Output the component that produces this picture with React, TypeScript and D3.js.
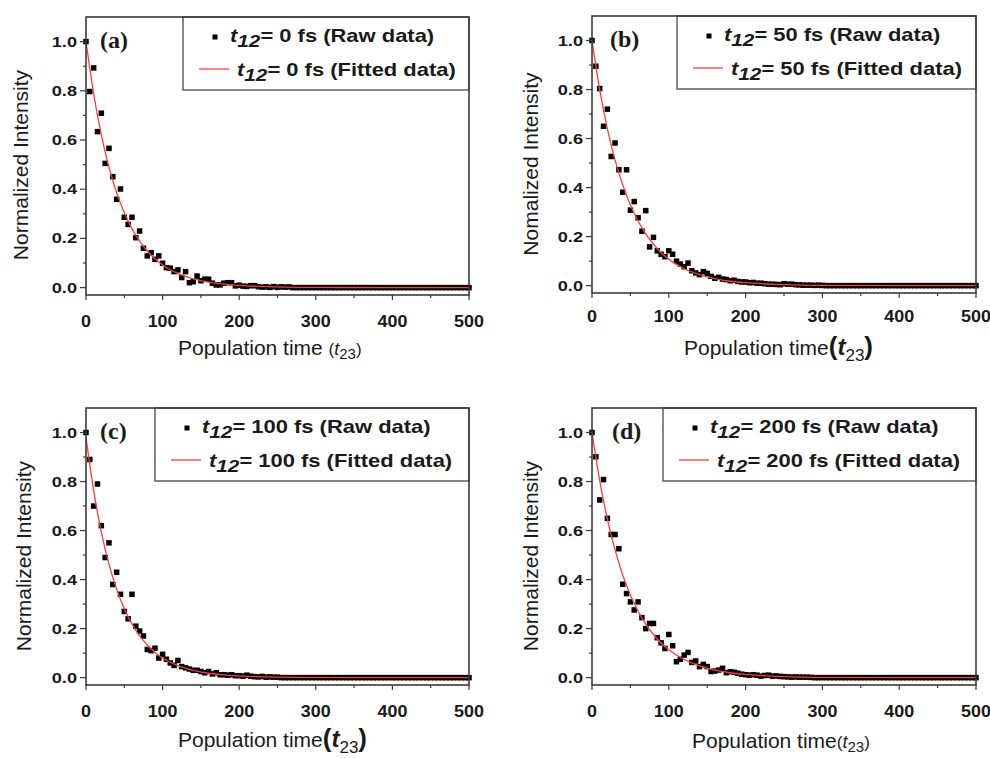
import React from 'react';
import * as d3 from 'd3';

// ---------- data ----------
const T = [0,5,10,15,20,25,30,35,40,45,50,55,60,65,70,75,80,85,90,95,
  100,105,110,115,120,125,130,135,140,145,150,155,160,165,170,175,180,185,190,195,
  200,205,210,215,220,225,230,235,240,245,250,255,260,265,270,275,280,285,290,295,
  300,305,310,315,320,325,330,335,340,345,350,355,360,365,370,375,380,385,390,395,
  400,405,410,415,420,425,430,435,440,445,450,455,460,465,470,475,480,485,490,495,500];

const rawA = [1.0,0.797,0.893,0.634,0.709,0.505,0.566,0.451,0.359,0.401,
  0.286,0.257,0.286,0.203,0.230,0.160,0.129,0.142,0.115,0.129,
  0.099,0.081,0.079,0.065,0.072,0.041,0.065,0.020,0.024,0.047,
  0.028,0.034,0.034,0.018,0.011,0.011,0.018,0.020,0.020,0.007,
  0.010,0.006,0.005,0.008,0.008,0.004,0.002,0.003,0.001,0.004,
  0.001,0.003,0.002,0.003,0,0,0,0,0,0,
  0,0,0,0,0,0,0,0,0,0,
  0,0,0,0,0,0,0,0,0,0,
  0,0,0,0,0,0,0,0,0,0,
  0,0,0,0,0,0,0,0,0,0,0];

const rawB = [1.0,0.895,0.804,0.650,0.720,0.527,0.582,0.473,0.381,0.473,
  0.308,0.343,0.277,0.222,0.306,0.158,0.197,0.142,0.128,0.118,
  0.142,0.128,0.100,0.088,0.077,0.092,0.061,0.052,0.045,0.057,
  0.050,0.038,0.030,0.034,0.027,0.025,0.020,0.022,0.017,0.015,
  0.015,0.012,0.013,0.010,0.010,0.008,0.006,0.006,0.005,0.004,
  0.008,0.006,0.006,0.004,0.003,0.002,0.002,0.002,0.001,0.002,
  0.001,0,0,0,0,0,0,0,0,0,
  0,0,0,0,0,0,0,0,0,0,
  0,0,0,0,0,0,0,0,0,0,
  0,0,0,0,0,0,0,0,0,0,0];

const rawC = [1.0,0.89,0.70,0.79,0.62,0.49,0.55,0.38,0.43,0.34,
  0.27,0.24,0.34,0.21,0.19,0.17,0.115,0.11,0.12,0.08,
  0.095,0.075,0.06,0.05,0.07,0.045,0.04,0.035,0.03,0.03,
  0.025,0.02,0.025,0.015,0.02,0.012,0.012,0.01,0.012,0.008,
  0.008,0.006,0.01,0.006,0.004,0.003,0.005,0.002,0.003,0.002,
  0.002,0,0,0,0,0,0,0,0,0,
  0,0,0,0,0,0,0,0,0,0,
  0,0,0,0,0,0,0,0,0,0,
  0,0,0,0,0,0,0,0,0,0,
  0,0,0,0,0,0,0,0,0,0,0];

const rawD = [1.0,0.901,0.725,0.808,0.650,0.584,0.584,0.526,0.381,0.343,
  0.309,0.276,0.309,0.245,0.200,0.221,0.221,0.163,0.142,0.119,
  0.176,0.130,0.065,0.075,0.092,0.103,0.062,0.068,0.045,0.054,
  0.045,0.025,0.027,0.031,0.038,0.020,0.024,0.022,0.018,0.014,
  0.012,0.010,0.012,0.010,0.006,0.009,0.010,0.006,0.007,0.005,
  0.004,0.003,0.002,0.003,0.002,0.002,0.002,0.001,0,0,
  0,0,0,0,0,0,0,0,0,0,
  0,0,0,0,0,0,0,0,0,0,
  0,0,0,0,0,0,0,0,0,0,
  0,0,0,0,0,0,0,0,0,0,0];

const fitT = [0,10,20,30,40,50,60,70,80,90,100,120,140,160,180,200,250,300,400,500];
const fitA = [1.0,0.788,0.621,0.490,0.386,0.304,0.240,0.189,0.149,0.117,0.092,0.057,0.036,0.022,0.014,0.009,0.003,0.001,0,0];
const fitB = [1.0,0.801,0.641,0.513,0.411,0.329,0.264,0.211,0.169,0.135,0.108,0.069,0.045,0.029,0.018,0.012,0.004,0.001,0,0];
const fitC = [0.98,0.763,0.594,0.463,0.361,0.281,0.219,0.170,0.133,0.103,0.080,0.049,0.030,0.018,0.011,0.007,0.002,0.001,0,0];
const fitD = [1.0,0.805,0.647,0.521,0.419,0.337,0.271,0.218,0.176,0.141,0.114,0.074,0.048,0.031,0.020,0.013,0.004,0.001,0,0];

const t12Values = ['0', '50', '100', '200'];
const panelLabels = ['(a)', '(b)', '(c)', '(d)'];
const yTitles = ['Normalized Intensity', 'Nomalized Intensity', 'Normalized Intensity', 'Normalized Intensity'];
const xTickValues = [0, 100, 200, 300, 400, 500];
const yTickValues = [0, 0.2, 0.4, 0.6, 0.8, 1.0];
const yTickLabels = ['0.0', '0.2', '0.4', '0.6', '0.8', '1.0'];

const rawSeries = [rawA, rawB, rawC, rawD];
const fitSeries = [fitA, fitB, fitC, fitD];

// ---------- layout ----------
const panels = [
  { left: 86, top: 17, right: 469, bottom: 295, legendLeft: 183, labelX: 100, tickDy: 32, yTitleX: 28, xTitleX: 178, xTitleY: 355, big: false, space: true },
  { left: 592, top: 16, right: 976, bottom: 293, legendLeft: 677, labelX: 610, tickDy: 29, yTitleX: 538, xTitleX: 684, xTitleY: 355, big: true, space: false },
  { left: 86, top: 408, right: 469, bottom: 685, legendLeft: 155, labelX: 100, tickDy: 32, yTitleX: 31, xTitleX: 178, xTitleY: 747, big: true, space: false },
  { left: 592, top: 408, right: 976, bottom: 685, legendLeft: 663, labelX: 612, tickDy: 32, yTitleX: 538, xTitleX: 692, xTitleY: 748, big: false, space: false },
];

const SANS = '"Liberation Sans", Arial, Helvetica, sans-serif';
const SERIF = '"Liberation Serif", "Times New Roman", serif';
const INK = '#1a1a1a';
const FRAME = '#3a3a3a';
const RED = '#ff3b3b';

function Panel({ idx }: { idx: number }) {
  const p = panels[idx];
  const raw = rawSeries[idx];
  const fit = fitSeries[idx];
  const x = d3.scaleLinear().domain([0, 500]).range([p.left, p.right]);
  const y = d3.scaleLinear().domain([-0.03, 1.1]).range([p.bottom, p.top]);
  const line = d3.line<number>().x((_, i) => x(fitT[i])).y((d) => y(d)).curve(d3.curveMonotoneX);
  const xMinor = x.ticks(10).filter((t) => t % 100 !== 0);
  const yMinor = y.ticks(12).filter((t) => t >= 0 && t < 1.05 && Math.round(t * 10) % 2 === 1);
  const sq = 5.5;
  const lg = p.legendLeft;
  const v = t12Values[idx];
  const clipId = `clip${idx}`;

  const suffix = p.big ? (
    <>
      <tspan fontSize={26} fontWeight="bold">(</tspan>
      <tspan fontSize={24} fontWeight="bold" fontStyle="italic">t</tspan>
      <tspan fontSize={17} dy={6}>23</tspan>
      <tspan fontSize={26} fontWeight="bold" dy={-6}>)</tspan>
    </>
  ) : (
    <>
      <tspan fontSize={17}>(</tspan>
      <tspan fontSize={18} fontStyle="italic">t</tspan>
      <tspan fontSize={15} dy={4}>23</tspan>
      <tspan fontSize={17} dy={-4}>)</tspan>
    </>
  );

  return (
    <g>
      <defs>
        <clipPath id={clipId}>
          <rect x={p.left} y={p.top} width={p.right - p.left} height={p.bottom - p.top} />
        </clipPath>
      </defs>
      {/* legend box */}
      <rect x={lg} y={p.top} width={p.right - lg} height={73} fill="none" stroke="#555" strokeWidth={1.4} />
      {/* raw squares */}
      <g fill="#000">
        {raw.map((d, i) => (
          <rect key={i} x={x(T[i]) - sq / 2} y={y(d) - sq / 2} width={sq} height={sq} />
        ))}
      </g>
      {/* fitted curve */}
      <path d={line(fit) || ''} fill="none" stroke={RED} strokeWidth={1.3} clipPath={`url(#${clipId})`} />
      {/* frame */}
      <rect x={p.left} y={p.top} width={p.right - p.left} height={p.bottom - p.top} fill="none" stroke={FRAME} strokeWidth={1.6} />
      {/* y ticks */}
      {yTickValues.map((t, i) => (
        <g key={'yt' + i}>
          <line x1={p.left} x2={p.left - 6} y1={y(t)} y2={y(t)} stroke={FRAME} strokeWidth={1.2} />
          <g transform={`translate(${p.left - 9},${y(t) + 5}) scale(1.3,1)`}>
            <text textAnchor="end" fontFamily={SANS} fontWeight="bold" fontSize={14} fill={INK}>{yTickLabels[i]}</text>
          </g>
        </g>
      ))}
      {yMinor.map((t, i) => (
        <line key={'ym' + i} x1={p.left} x2={p.left - 3} y1={y(t)} y2={y(t)} stroke={FRAME} strokeWidth={1.2} />
      ))}
      {/* x ticks */}
      {xTickValues.map((t, i) => (
        <g key={'xt' + i}>
          <line x1={x(t)} x2={x(t)} y1={p.bottom} y2={p.bottom + 5} stroke={FRAME} strokeWidth={1.2} />
          <g transform={`translate(${x(t)},${p.bottom + p.tickDy}) scale(1.12,1)`}>
            <text textAnchor="middle" fontFamily={SANS} fontWeight="bold" fontSize={16} fill={INK}>{String(t)}</text>
          </g>
        </g>
      ))}
      {xMinor.map((t, i) => (
        <line key={'xm' + i} x1={x(t)} x2={x(t)} y1={p.bottom} y2={p.bottom + 3} stroke={FRAME} strokeWidth={1.2} />
      ))}
      {/* panel label */}
      <text x={p.labelX} y={p.top + 31} fontFamily={SERIF} fontWeight="bold" fontSize={24} fill={INK}>{panelLabels[idx]}</text>
      {/* legend entries */}
      <rect x={lg + 32 - 2.5} y={p.top + 20 - 2.5} width={5} height={5} fill="#000" />
      <g transform={`translate(${lg + 47},${p.top + 25}) scale(1.22,1)`}>
        <text fontFamily={SANS} fontWeight="bold" fontSize={18} fill={INK}>
          <tspan fontStyle="italic">t</tspan>
          <tspan fontStyle="italic" fontSize={17} dy={5}>12</tspan>
          <tspan dy={-5}>{`= ${v} fs (Raw data)`}</tspan>
        </text>
      </g>
      <line x1={lg + 16} x2={lg + 46} y1={p.top + 52} y2={p.top + 52} stroke={RED} strokeWidth={1.3} />
      <g transform={`translate(${lg + 54},${p.top + 59}) scale(1.22,1)`}>
        <text fontFamily={SANS} fontWeight="bold" fontSize={18} fill={INK}>
          <tspan fontStyle="italic">t</tspan>
          <tspan fontStyle="italic" fontSize={17} dy={5}>12</tspan>
          <tspan dy={-5}>{`= ${v} fs (Fitted data)`}</tspan>
        </text>
      </g>
      {/* y title */}
      <text transform={`translate(${p.yTitleX},${p.top + 148}) rotate(-90)`} textAnchor="middle" fontFamily={SANS} fontSize={21} fill={INK}>
        {yTitles[idx]}
      </text>
      {/* x title */}
      <text x={p.xTitleX} y={p.xTitleY} fontFamily={SANS} fontSize={21} fill={INK}>
        <tspan>{p.space ? 'Population time ' : 'Population time'}</tspan>
        {suffix}
      </text>
    </g>
  );
}

export default function App() {
  return (
    <svg width={990} height={758} viewBox="0 0 990 758" style={{ position: 'absolute', left: 0, top: 0, background: '#fff' }}>
      <rect x={0} y={0} width={990} height={758} fill="#fff" />
      {panels.map((_, i) => (
        <Panel key={i} idx={i} />
      ))}
    </svg>
  );
}
